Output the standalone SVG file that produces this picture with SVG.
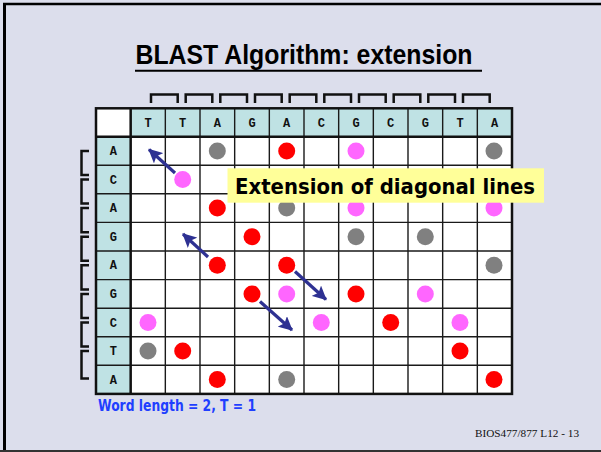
<svg xmlns="http://www.w3.org/2000/svg" width="601" height="452" viewBox="0 0 601 452">
<style>
.hdr{fill:#bfe2e4}
.cellw{fill:#ffffff}
.gl{stroke:#1a1a1a;stroke-width:1.4;fill:none}
.gt{stroke:#111;stroke-width:2.5;fill:none}
.lt{font-family:"Liberation Mono","Courier New",monospace;font-weight:bold;font-size:12px;fill:#111;text-anchor:middle}
.r{fill:#ff0000}.p{fill:#ff66ff}.g{fill:#808080}
.br{stroke:#111;stroke-width:2.5;fill:none}
.arr{stroke:#2e3192;stroke-width:3.2;fill:none;marker-end:url(#ah)}
</style>
<defs>
<marker id="ah" markerUnits="userSpaceOnUse" markerWidth="16" markerHeight="14" refX="13" refY="7" orient="auto">
<path d="M0,0 L14,7 L0,14 L3,7 z" fill="#2e3192"/>
</marker>
</defs>
<rect x="0" y="0" width="601" height="452" fill="#dcdeec"/>
<line x1="4.5" y1="3" x2="4.5" y2="452" stroke="#000" stroke-width="3"/>
<line x1="3" y1="4" x2="601" y2="4" stroke="#000" stroke-width="2.5"/>
<line x1="0" y1="451" x2="601" y2="451" stroke="#333" stroke-width="2"/>

<g id="title">
<text x="135.5" y="64" font-family="'Liberation Sans Narrow','Liberation Sans',Arial,sans-serif" font-weight="bold" font-size="27.5" textLength="337" lengthAdjust="spacingAndGlyphs" fill="#000">BLAST Algorithm: extension</text>
<line x1="135" y1="70.7" x2="482" y2="70.7" stroke="#000" stroke-width="2"/>
</g>

<g id="grid">
<rect x="96" y="108.3" width="416" height="285.6" class="cellw"/>
<rect x="130.67" y="108.3" width="381.33" height="28.4" class="hdr"/>
<rect x="96" y="136.7" width="34.67" height="257.2" class="hdr"/>
<path class="gl" d="M165.33,108.3V393.9M200,108.3V393.9M234.67,108.3V393.9M269.33,108.3V393.9M304,108.3V393.9M338.67,108.3V393.9M373.33,108.3V393.9M408,108.3V393.9M442.67,108.3V393.9M477.33,108.3V393.9
M96,165.3H512M96,193.8H512M96,222.4H512M96,251H512M96,279.6H512M96,308.2H512M96,336.8H512M96,365.3H512"/>
<path class="gt" d="M130.67,108.3V393.9M96,136.7H512"/>
<rect x="96" y="108.3" width="416" height="285.6" class="gt"/>
</g>

<g id="col-labels">
<text class="lt" x="148" y="126.5">T</text>
<text class="lt" x="182.7" y="126.5">T</text>
<text class="lt" x="217.3" y="126.5">A</text>
<text class="lt" x="252" y="126.5">G</text>
<text class="lt" x="286.7" y="126.5">A</text>
<text class="lt" x="321.3" y="126.5">C</text>
<text class="lt" x="356" y="126.5">G</text>
<text class="lt" x="390.7" y="126.5">C</text>
<text class="lt" x="425.3" y="126.5">G</text>
<text class="lt" x="460" y="126.5">T</text>
<text class="lt" x="494.7" y="126.5">A</text>
</g>
<g id="row-labels">
<text class="lt" x="113.3" y="155">A</text>
<text class="lt" x="113.3" y="183.6">C</text>
<text class="lt" x="113.3" y="212.1">A</text>
<text class="lt" x="113.3" y="240.7">G</text>
<text class="lt" x="113.3" y="269.3">A</text>
<text class="lt" x="113.3" y="297.9">G</text>
<text class="lt" x="113.3" y="326.5">C</text>
<text class="lt" x="113.3" y="355.1">T</text>
<text class="lt" x="113.3" y="383.6">A</text>
</g>

<g id="top-brackets">
<path class="br" d="M151,103V94.5H177.7V103"/>
<path class="br" d="M185.7,103V94.5H212.3V103"/>
<path class="br" d="M220.3,103V94.5H247V103"/>
<path class="br" d="M255,103V94.5H281.7V103"/>
<path class="br" d="M289.7,103V94.5H316.3V103"/>
<path class="br" d="M324.3,103V94.5H351V103"/>
<path class="br" d="M359,103V94.5H385.7V103"/>
<path class="br" d="M393.7,103V94.5H420.3V103"/>
<path class="br" d="M428.3,103V94.5H455V103"/>
<path class="br" d="M463,103V94.5H489.7V103"/>
</g>
<g id="left-brackets">
<path class="br" d="M89,151H81.5V175H89"/>
<path class="br" d="M89,179.6H81.5V203.6H89"/>
<path class="br" d="M89,208.1H81.5V232.2H89"/>
<path class="br" d="M89,236.7H81.5V260.8H89"/>
<path class="br" d="M89,265.3H81.5V289.4H89"/>
<path class="br" d="M89,293.9H81.5V318H89"/>
<path class="br" d="M89,322.5H81.5V346.6H89"/>
<path class="br" d="M89,351.1H81.5V378.5H89"/>
</g>

<g id="dots">
<circle class="g" cx="217.3" cy="151" r="8.5"/>
<circle class="r" cx="286.7" cy="151" r="8.5"/>
<circle class="p" cx="356" cy="151" r="8.5"/>
<circle class="g" cx="494" cy="151" r="8.5"/>
<circle class="p" cx="182.7" cy="179.6" r="8.5"/>
<circle class="r" cx="217.3" cy="208.1" r="8.5"/>
<circle class="g" cx="286.7" cy="208.1" r="8.5"/>
<circle class="p" cx="356" cy="208.1" r="8.5"/>
<circle class="p" cx="494" cy="208.1" r="8.5"/>
<circle class="r" cx="252" cy="236.7" r="8.5"/>
<circle class="g" cx="356" cy="236.7" r="8.5"/>
<circle class="g" cx="425.3" cy="236.7" r="8.5"/>
<circle class="r" cx="217.3" cy="265.3" r="8.5"/>
<circle class="r" cx="286.7" cy="265.3" r="8.5"/>
<circle class="g" cx="494" cy="265.3" r="8.5"/>
<circle class="r" cx="252" cy="293.9" r="8.5"/>
<circle class="p" cx="286.7" cy="293.9" r="8.5"/>
<circle class="r" cx="356" cy="293.9" r="8.5"/>
<circle class="p" cx="425.3" cy="293.9" r="8.5"/>
<circle class="p" cx="148" cy="322.5" r="8.5"/>
<circle class="p" cx="321.3" cy="322.5" r="8.5"/>
<circle class="r" cx="390.7" cy="322.5" r="8.5"/>
<circle class="p" cx="460" cy="322.5" r="8.5"/>
<circle class="g" cx="148" cy="351.1" r="8.5"/>
<circle class="r" cx="182.7" cy="351.1" r="8.5"/>
<circle class="r" cx="460" cy="351.1" r="8.5"/>
<circle class="r" cx="217.3" cy="379.6" r="8.5"/>
<circle class="g" cx="286.7" cy="379.6" r="8.5"/>
<circle class="r" cx="494" cy="379.6" r="8.5"/>
</g>

<g id="connectors">
<line class="arr" x1="175" y1="173" x2="149" y2="149.5"/>
<line class="arr" x1="208" y1="257" x2="183" y2="234"/>
<line class="arr" x1="295" y1="271.5" x2="326" y2="299.5"/>
<line class="arr" x1="260" y1="301.5" x2="292" y2="330"/>
</g>

<g id="label-extension">
<rect x="227.5" y="168.3" width="316.5" height="34.4" fill="#ffff99"/>
<text x="235" y="193.5" font-family="'DejaVu Sans','Noto Sans',sans-serif" font-weight="bold" font-size="22" textLength="300" lengthAdjust="spacingAndGlyphs" fill="#000">Extension of diagonal lines</text>
</g>

<g id="label-word">
<text x="98" y="410.5" font-family="'DejaVu Sans','Noto Sans',sans-serif" font-weight="bold" font-size="16" textLength="158" lengthAdjust="spacingAndGlyphs" fill="#1f3fff">Word length = 2, T = 1</text>
</g>

<g id="footer">
<text x="475" y="436.5" font-family="'Liberation Serif','Times New Roman',serif" font-size="10.5" textLength="104" lengthAdjust="spacingAndGlyphs" fill="#111">BIOS477/877 L12 - 13</text>
</g>
</svg>
